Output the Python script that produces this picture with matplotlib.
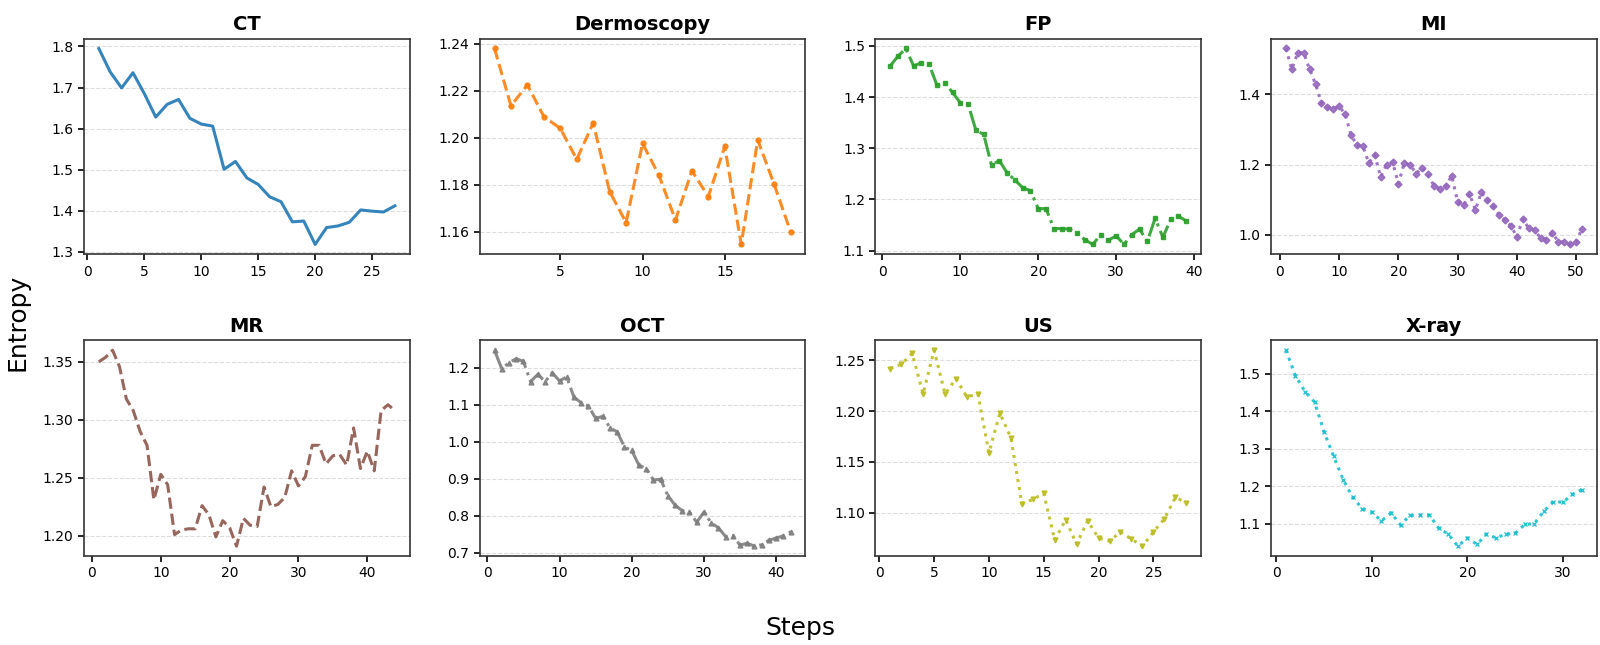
import matplotlib
matplotlib.use('Agg')
from matplotlib import pyplot as plt
from matplotlib.ticker import MultipleLocator

# Entropy per step for each modality
titles = ['CT', 'Dermoscopy', 'FP', 'MI', 'MR', 'OCT', 'US', 'X-ray']

ct = [1.795, 1.738, 1.699, 1.736, 1.685, 1.628, 1.659, 1.671, 1.625, 1.611,
      1.606, 1.501, 1.520, 1.480, 1.464, 1.434, 1.422, 1.373, 1.375, 1.318,
      1.359, 1.363, 1.372, 1.402, 1.399, 1.397, 1.412]

dermoscopy = [1.238, 1.2136, 1.2225, 1.209, 1.204, 1.1908, 1.2063, 1.1771, 1.1639, 1.1976,
              1.184, 1.165, 1.1859, 1.175, 1.1963, 1.1546, 1.1991, 1.1802, 1.160]

fp = [1.461, 1.480, 1.495, 1.461, 1.467, 1.464, 1.423, 1.428, 1.409, 1.389,
      1.386, 1.335, 1.327, 1.267, 1.276, 1.252, 1.238, 1.223, 1.217, 1.182,
      1.182, 1.143, 1.143, 1.142, 1.134, 1.121, 1.112, 1.131, 1.120, 1.129,
      1.112, 1.131, 1.142, 1.118, 1.163, 1.126, 1.161, 1.167, 1.158]

mi = [1.530, 1.471, 1.518, 1.518, 1.471, 1.429, 1.374, 1.365, 1.359, 1.366,
      1.343, 1.284, 1.255, 1.252, 1.205, 1.227, 1.165, 1.200, 1.207, 1.146,
      1.205, 1.199, 1.174, 1.191, 1.174, 1.139, 1.131, 1.140, 1.168, 1.094,
      1.084, 1.117, 1.071, 1.121, 1.099, 1.082, 1.057, 1.042, 1.026, 0.994,
      1.045, 1.019, 1.014, 0.991, 0.987, 1.005, 0.981, 0.980, 0.973, 0.980,
      1.018]

mr = [1.350, 1.354, 1.360, 1.346, 1.318, 1.308, 1.290, 1.278, 1.231, 1.253,
      1.244, 1.201, 1.205, 1.206, 1.206, 1.226, 1.218, 1.199, 1.213, 1.207,
      1.191, 1.215, 1.209, 1.208, 1.242, 1.225, 1.227, 1.233, 1.256, 1.243,
      1.251, 1.278, 1.278, 1.262, 1.269, 1.270, 1.261, 1.293, 1.258, 1.273,
      1.256, 1.308, 1.313, 1.308]

oct_ = [1.248, 1.198, 1.214, 1.225, 1.218, 1.163, 1.183, 1.163, 1.187, 1.165,
        1.176, 1.121, 1.106, 1.097, 1.064, 1.069, 1.038, 1.027, 0.986, 0.977,
        0.937, 0.928, 0.897, 0.899, 0.855, 0.829, 0.814, 0.810, 0.783, 0.810,
        0.781, 0.768, 0.744, 0.746, 0.721, 0.726, 0.718, 0.722, 0.734, 0.740,
        0.746, 0.757]

us = [1.242, 1.246, 1.257, 1.217, 1.260, 1.217, 1.232, 1.214, 1.217, 1.159,
      1.198, 1.174, 1.109, 1.113, 1.119, 1.073, 1.093, 1.069, 1.092, 1.075,
      1.072, 1.081, 1.074, 1.067, 1.081, 1.094, 1.115, 1.110]

xray = [1.562, 1.494, 1.452, 1.424, 1.344, 1.279, 1.217, 1.170, 1.140, 1.131,
        1.107, 1.129, 1.097, 1.122, 1.123, 1.123, 1.088, 1.072, 1.040, 1.062,
        1.045, 1.072, 1.062, 1.072, 1.074, 1.098, 1.100, 1.133, 1.159, 1.157,
        1.178, 1.191]

series = [ct, dermoscopy, fp, mi, mr, oct_, us, xray]

# styles per panel
colors = ['#1f77b4', '#ff7f0e', '#2ca02c', '#9467bd',
          '#8c564b', '#7f7f7f', '#bcbd22', '#17becf']
linestyles = ['-', '--', '-.', ':', '--', '-.', ':', ':']
markers = [None, 'o', 's', 'D', None, '^', 'v', 'x']
y_steps = [0.1, 0.02, 0.1, 0.2, 0.05, 0.1, 0.05, 0.1]
x_steps = [5, 5, 10, 10, 10, 10, 5, 10]

fig, axes = plt.subplots(2, 4, figsize=(16, 6.45), dpi=100)
plt.subplots_adjust(left=0.0525, right=0.998, bottom=0.138, top=0.94,
                    wspace=0.215, hspace=0.4)

for i, ax in enumerate(axes.flat):
    vals = series[i]
    steps = list(range(1, len(vals) + 1))
    ax.plot(steps, vals, color=colors[i], linestyle=linestyles[i],
            marker=markers[i], markersize=3.5, linewidth=2.2, alpha=0.9)
    ax.set_title(titles[i], fontsize=14, fontweight='bold')
    ax.yaxis.set_major_locator(MultipleLocator(y_steps[i]))
    ax.xaxis.set_major_locator(MultipleLocator(x_steps[i]))
    ax.yaxis.grid(True, linestyle='--', color='#dddddd', linewidth=0.8)
    ax.set_axisbelow(True)
    ax.tick_params(labelsize=10, direction='out', length=4, width=1.2)
    for sp in ax.spines.values():
        sp.set_linewidth(1.2)
        sp.set_color('#333333')

fig.text(0.5, 0.026, 'Steps', ha='center', va='center', fontsize=18)
fig.text(0.011, 0.5, 'Entropy', ha='center', va='center', rotation=90, fontsize=18)

plt.savefig('out.png', dpi=100)
plt.close(fig)
